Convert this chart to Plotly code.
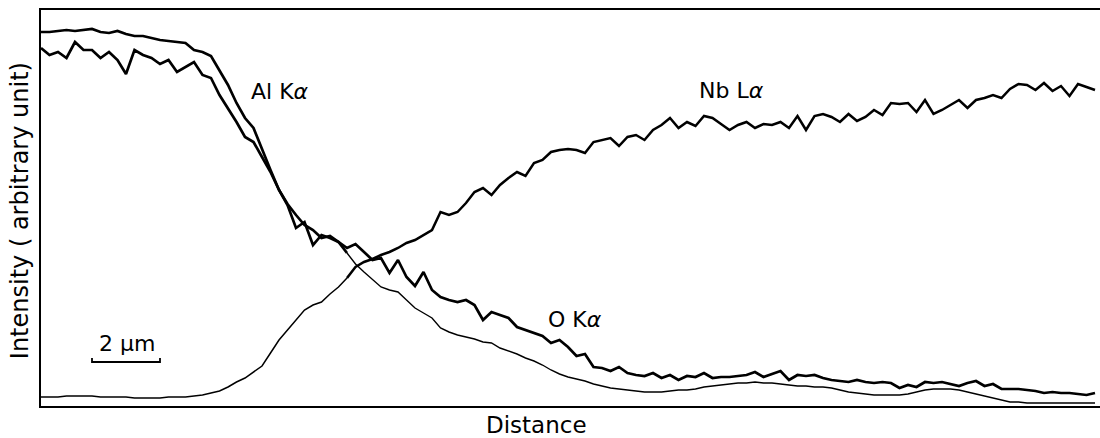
import plotly.graph_objects as go

# sampling positions along the scan (micrometres), 0.25 um step
distance_um = [round(0.25 * i, 2) for i in range(125)]

# Al K-alpha intensity (arbitrary units)
al_ka = [
    374, 374, 375, 376, 375, 376, 377, 374, 373, 375,
    372, 370, 370, 368, 366, 365, 364, 363, 356, 354,
    350, 336, 321, 303, 288, 278, 256, 236, 216, 202,
    191, 181, 176, 168, 170, 164, 153, 142, 134, 126,
    119, 116, 114, 106, 98, 93, 88, 78, 74, 71,
    69, 67, 64, 63, 58, 55, 52, 48, 45, 41,
    36, 32, 29, 27, 25, 22, 20, 18, 17, 16,
    15, 14, 14, 14, 15, 16, 16, 17, 19, 20,
    21, 22, 23, 23, 24, 23, 23, 22, 21, 20,
    20, 19, 19, 18, 16, 14, 13, 12, 11, 11,
    11, 11, 12, 14, 16, 17, 17, 17, 16, 14,
    12, 10, 8, 6, 4, 4, 3, 3, 3, 3,
    3, 3, 3, 3, 3,
]

# O K-alpha intensity (arbitrary units)
o_ka = [
    358, 351, 354, 348, 364, 356, 356, 348, 354, 346,
    332, 356, 351, 348, 342, 346, 334, 339, 344, 331,
    328, 311, 298, 284, 269, 264, 249, 234, 216, 201,
    178, 184, 161, 171, 168, 164, 158, 162, 154, 146,
    148, 133, 146, 129, 120, 134, 116, 109, 106, 104,
    106, 101, 86, 94, 91, 88, 79, 76, 73, 70,
    63, 66, 59, 50, 52, 39, 38, 35, 39, 33,
    31, 30, 33, 28, 31, 26, 30, 29, 33, 28,
    29, 29, 30, 31, 34, 29, 32, 35, 26, 31,
    30, 31, 28, 26, 25, 24, 26, 24, 23, 24,
    23, 18, 21, 19, 24, 23, 24, 22, 20, 23,
    25, 20, 22, 17, 17, 17, 16, 15, 13, 14,
    13, 13, 12, 11, 13,
]

# Nb L-alpha intensity (arbitrary units)
nb_la = [
    9, 9, 9, 10, 10, 10, 10, 9, 9, 9,
    9, 8, 8, 8, 8, 9, 9, 9, 10, 11,
    13, 15, 19, 24, 28, 34, 40, 53, 66, 76,
    86, 96, 101, 104, 112, 119, 128, 139, 144, 147,
    151, 154, 158, 163, 166, 171, 176, 194, 191, 194,
    203, 214, 218, 211, 221, 228, 234, 230, 243, 246,
    254, 256, 257, 256, 253, 264, 266, 268, 260, 269,
    271, 266, 276, 281, 288, 278, 284, 280, 290, 288,
    282, 276, 281, 284, 278, 282, 281, 284, 278, 290,
    276, 290, 292, 289, 284, 292, 285, 289, 296, 291,
    303, 302, 303, 294, 306, 292, 296, 301, 306, 298,
    306, 308, 311, 308, 317, 322, 321, 316, 323, 315,
    320, 310, 322, 319, 316,
]

labels = ["Al K<i>α</i>", "Nb L<i>α</i>", "O K<i>α</i>"]
scale_bar_um = [1.5, 3.5]
scale_label = "2 µm"

FONT = "DejaVu Sans"
fig = go.Figure()

def seg(x, y, a, b, w):
    fig.add_trace(go.Scatter(x=x[a:b], y=y[a:b], mode="lines",
                             line=dict(color="black", width=w),
                             showlegend=False, hoverinfo="skip"))

n = len(distance_um)
# Nb L-alpha: thin at the start, heavier where it is noisy
seg(distance_um, nb_la, 0, 37, 1.5)
seg(distance_um, nb_la, 36, n, 2.5)
# Al K-alpha: heavy on the plateau, thin in the tail
seg(distance_um, al_ka, 0, 37, 2.7)
seg(distance_um, al_ka, 36, n, 1.4)
# O K-alpha: heavy throughout
seg(distance_um, o_ka, 0, n, 2.7)

# scale bar (bracket)
fig.add_trace(go.Scatter(
    x=[scale_bar_um[0], scale_bar_um[0], scale_bar_um[1], scale_bar_um[1]],
    y=[48, 44, 44, 48], mode="lines",
    line=dict(color="black", width=1.8), showlegend=False, hoverinfo="skip"))

ann = [
    dict(x=7.03, y=315, text=labels[0]),
    dict(x=20.3, y=316, text=labels[1]),
    dict(x=15.7, y=87, text=labels[2]),
    dict(x=2.53, y=63, text=scale_label),
]
annotations = []
for a in ann:
    annotations.append(dict(x=a["x"], y=a["y"], xref="x", yref="y", text=a["text"],
                            showarrow=False, xanchor="center", yanchor="middle",
                            font=dict(family=FONT, size=22, color="black")))
annotations.append(dict(x=-0.0198, y=0.492, xref="paper", yref="paper",
                        text="Intensity ( arbitrary unit)", textangle=-90,
                        showarrow=False, xanchor="center", yanchor="middle",
                        font=dict(family=FONT, size=24, color="black")))
annotations.append(dict(x=0.468, y=-0.049, xref="paper", yref="paper",
                        text="Distance", showarrow=False,
                        xanchor="center", yanchor="middle",
                        font=dict(family=FONT, size=23, color="black")))

fig.update_layout(
    width=1100, height=438,
    margin=dict(l=41, r=0, t=10, b=32),
    paper_bgcolor="white", plot_bgcolor="white",
    annotations=annotations,
    xaxis=dict(range=[0, 31.147], showgrid=False, zeroline=False,
               showticklabels=False, ticks="", showline=True, mirror=True,
               linecolor="black", linewidth=2),
    yaxis=dict(range=[0, 396], showgrid=False, zeroline=False,
               showticklabels=False, ticks="", showline=True, mirror=False,
               linecolor="black", linewidth=2),
)

fig.write_html("out.html")
